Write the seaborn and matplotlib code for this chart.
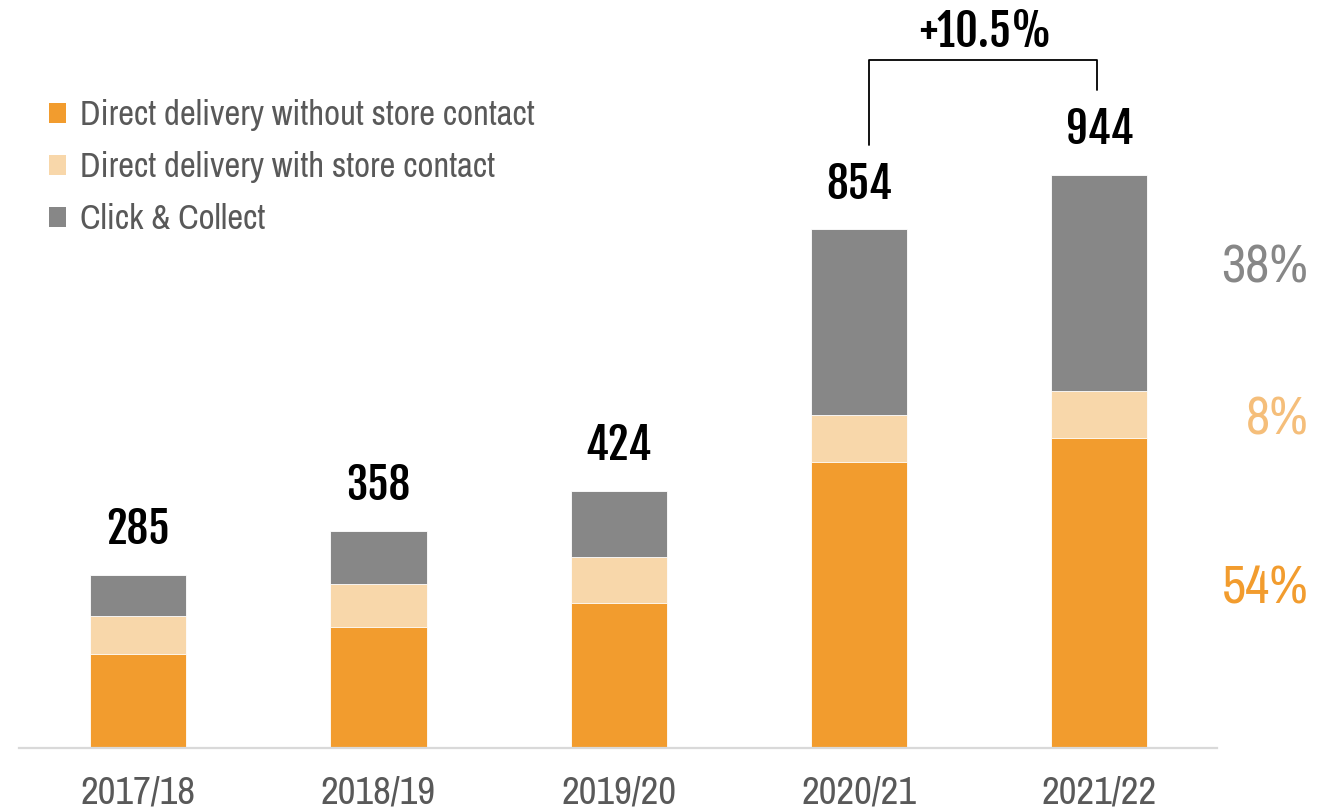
import matplotlib
matplotlib.use("Agg")
import matplotlib.pyplot as plt
from matplotlib.patches import Patch
import seaborn as sns
import pandas as pd

years = ["2017/18", "2018/19", "2019/20", "2020/21", "2021/22"]
direct_no_store = [155, 199, 238, 471, 511]
direct_with_store = [63, 71, 76, 78, 77]
click_collect = [67, 88, 110, 305, 356]

series_names = ["Direct delivery without store contact",
                "Direct delivery with store contact",
                "Click & Collect"]
colors = ["#F29C2E", "#F8D7AA", "#878787"]
pct_colors = ["#F29C2E", "#F5BE7A", "#878787"]

df = pd.DataFrame({"year": years,
                   series_names[0]: direct_no_store,
                   series_names[1]: direct_with_store,
                   series_names[2]: click_collect})
df["total"] = df[series_names].sum(axis=1)

sns.set_style("white")
text_font = ["Archivo Narrow", "Liberation Sans Narrow", "DejaVu Sans"]
num_font = ["Fjalla One", "Oswald", "DejaVu Sans"]
plt.rcParams["font.family"] = text_font

fig = plt.figure(figsize=(13.17, 8.11), dpi=100)
ax = fig.add_axes([19 / 1317, 63 / 811, 1198 / 1317, 728 / 811])

# stacked bars: draw cumulative heights back to front
cum = df[series_names].cumsum(axis=1)
for name, col in reversed(list(zip(series_names, colors))):
    sns.barplot(x=df["year"], y=cum[name], color=col, width=0.4,
                saturation=1, ax=ax, edgecolor="white", linewidth=0.6)

ax.set_xlim(-0.496, 4.49)
ax.set_ylim(0, 1199)
ax.set_xlabel("")
ax.set_ylabel("")
ax.set_yticks([])
sns.despine(ax=ax, left=True)
ax.spines["bottom"].set_color("#D9D9D9")
ax.spines["bottom"].set_linewidth(1.6)
ax.tick_params(axis="x", length=0, pad=20, labelsize=28, labelcolor="#595959")

for i, t in enumerate(df["total"]):
    ax.annotate(f"{t}", xy=(i, t), xytext=(0, 22), textcoords="offset points",
                ha="center", va="baseline", fontsize=31, family=num_font,
                color="black")

# share labels for the last year
last = df.iloc[-1]
nudges = [3, -4, 11]
bottom = 0
for name, col, dy in zip(series_names, pct_colors, nudges):
    v = last[name]
    share = round(v / last["total"] * 100)
    ax.annotate(f"{share}%", xy=(4.87, bottom + v / 2), xytext=(0, dy),
                textcoords="offset points", ha="right", va="center",
                fontsize=38, color=col, annotation_clip=False)
    bottom += v

# growth bracket between the last two years
t0, t1 = df["total"].iloc[3], df["total"].iloc[4]
top = t1 + 189
ax.plot([3.04, 3.04, 3.99, 3.99], [t0 + 139, top, top, t1 + 140],
        color="black", linewidth=1.3, clip_on=False)
ax.text(3.525, top + 22, f"+{(t1 / t0 - 1) * 100:.1f}%", ha="center",
        va="baseline", fontsize=32, family=num_font, color="black")

handles = [Patch(facecolor=c, edgecolor="none") for c in colors]
fig.legend(handles, series_names, loc="upper left",
           bbox_to_anchor=(49 / 1317, 1 - 99 / 811), frameon=False,
           fontsize=25, labelcolor="#595959", handlelength=0.5,
           handleheight=0.5, handletextpad=0.4, labelspacing=0.58,
           borderpad=0, borderaxespad=0)

fig.savefig("out.png", dpi=100)
